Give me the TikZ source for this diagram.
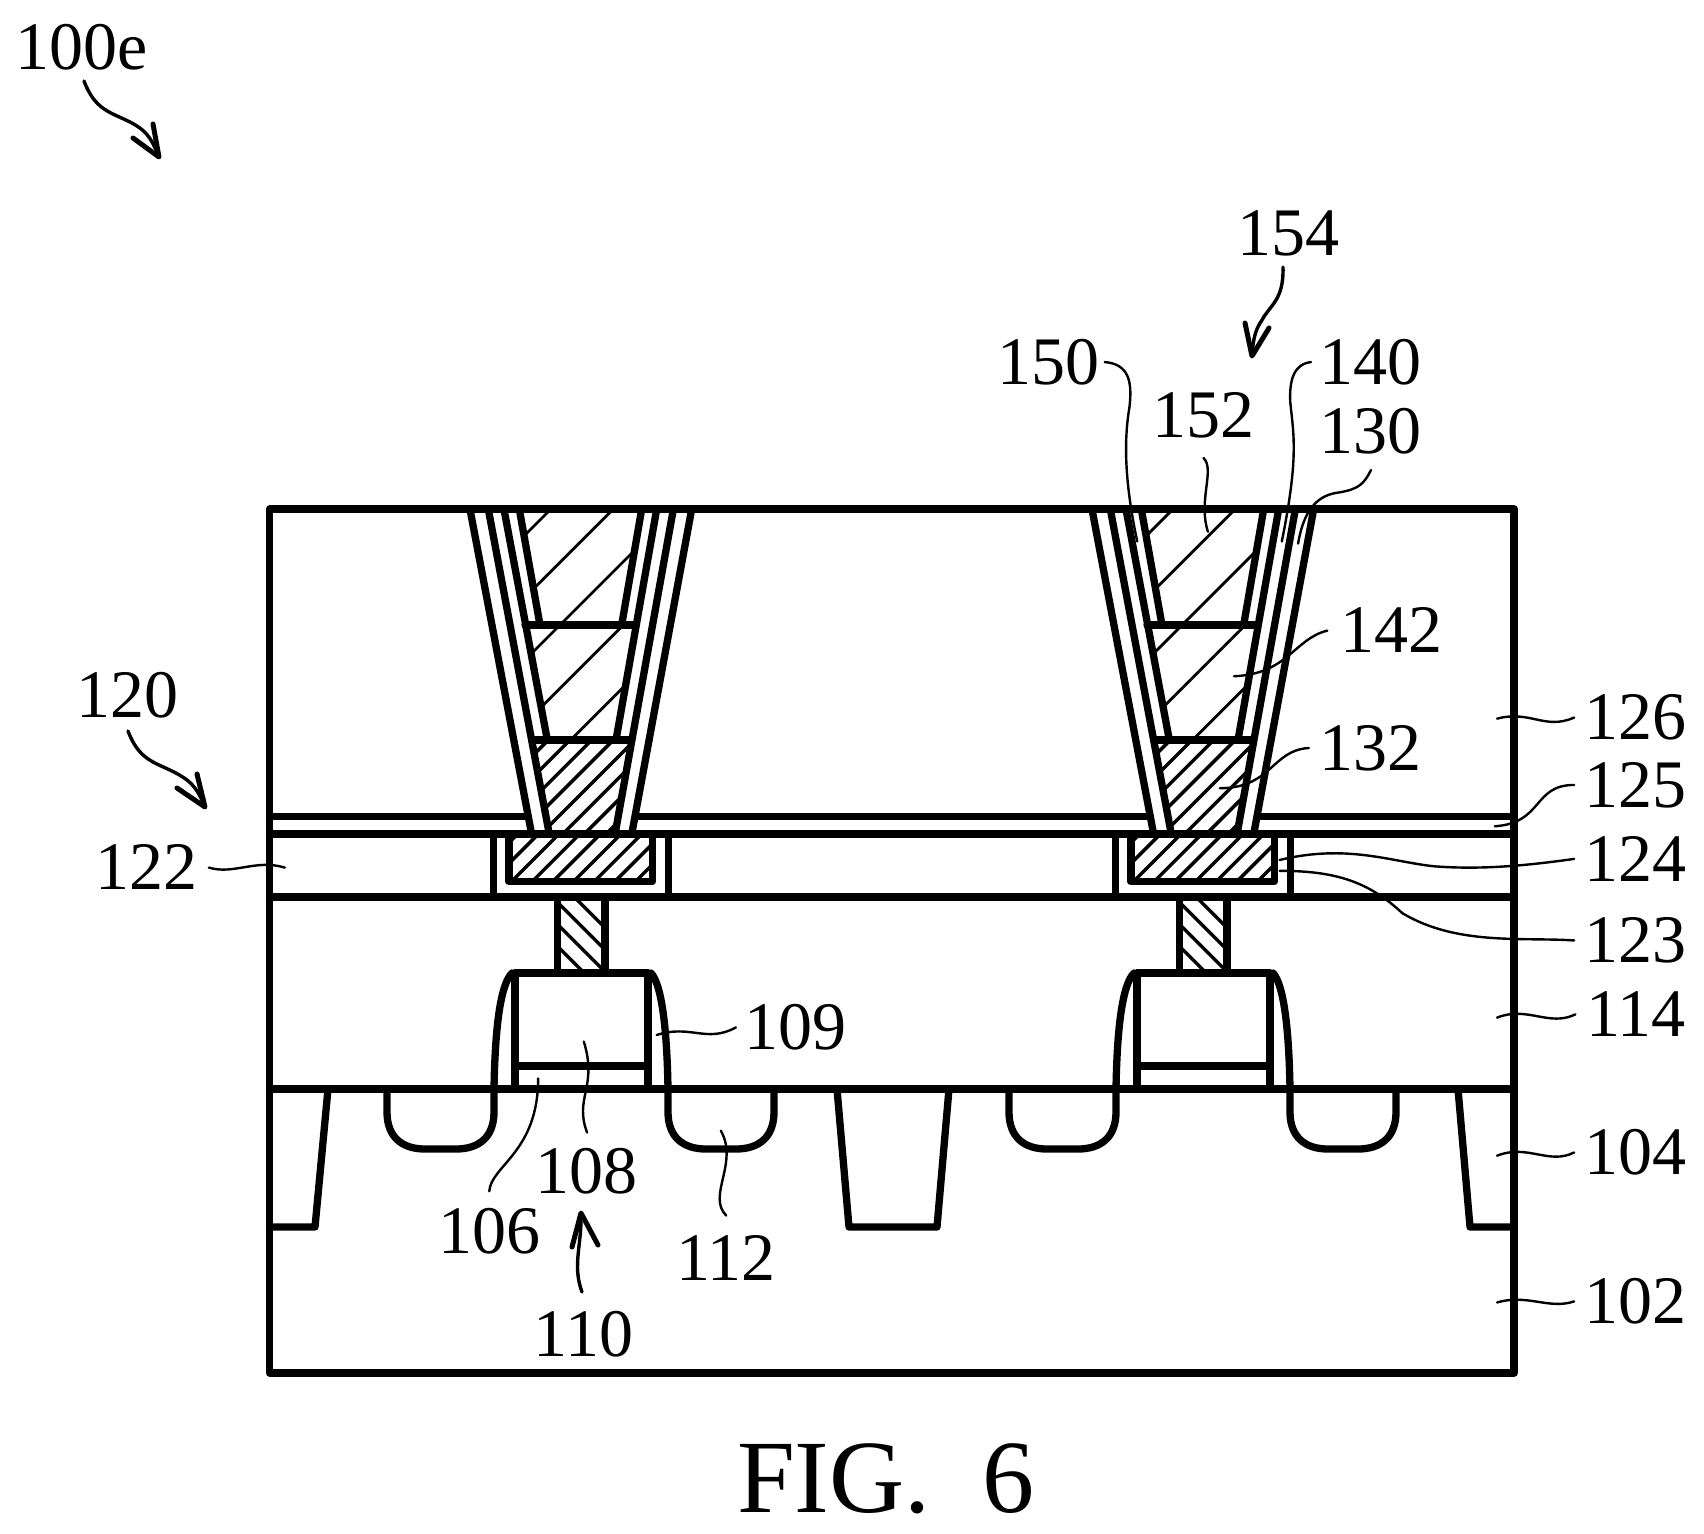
\documentclass[tikz,border=0pt]{standalone}
\usepackage{fontspec}
\setmainfont{Liberation Serif}
\tikzset{
  main/.style={line width=3.65pt,line join=round,line cap=round},
  hatchthin/.style={line width=1.4pt},
  hatchthick/.style={line width=1.7pt},
  lbl/.style={font=\fontsize{34}{34}\selectfont,inner sep=1pt},
  leader/.style={line width=1.2pt,line cap=round},
  calloutline/.style={line width=1.7pt,line cap=round},
  barb/.style={line width=2.5pt,line cap=round,line join=round}
}
\begin{document}
\begin{tikzpicture}[x=0.5pt,y=-0.5pt]
\useasboundingbox (0,0) rectangle (1704,1533);
% outer box and layers
\draw[main] (269.6,509) rectangle (1514,1373);
\draw[main] (269.6,834) -- (1514,834);
\draw[main] (269.6,897) -- (1514,897);
\draw[main] (269.6,1089) -- (1514,1089);
\draw[main] (269.6,816.5) -- (525,816.5) (638,816.5) -- (1147,816.5) (1260,816.5) -- (1514,816.5);
% isolation
\draw[main] (328,1089) -- (315,1227) -- (269.6,1227);
\draw[main] (837,1089) -- (849,1227) -- (937,1227) -- (949,1089);
\draw[main] (1458,1089) -- (1470,1227) -- (1514,1227);
% repeated structure
\foreach \ox in {0,622}{
 \begin{scope}[shift={(\ox,0)}]
  % wells
  \draw[main] (387,1089) -- (387,1112) .. controls (387,1137) and (402,1149) .. (425,1149) -- (456,1149) .. controls (479,1149) and (494,1137) .. (494,1112) -- (494,1089);
  \draw[main] (668,1089) -- (668,1112) .. controls (668,1137) and (683,1149) .. (706,1149) -- (736,1149) .. controls (759,1149) and (774,1137) .. (774,1112) -- (774,1089);
  % gate
  \draw[main] (515,1089) -- (515,973) -- (648,973) -- (648,1089);
  \draw[main] (515,1066) -- (648,1066);
  % spacers
  \draw[main] (494,1089) .. controls (495,1030) and (500,985) .. (512,973);
  \draw[main] (668,1089) .. controls (667,1030) and (662,985) .. (651,973);
 \end{scope}
 \begin{scope}[shift={(440+\ox,490)},scale=1/3]
  % liners
  \draw[main] (90,58) -- (275,1033);
  \draw[main] (145,58) -- (328,1033);
  \draw[main] (192,58) -- (322,750);
  \draw[main] (238,58) -- (300,405);
  \draw[main] (755,58) -- (575,1033);
  \draw[main] (700,58) -- (525,1033);
  \draw[main] (650,58) -- (528,750);
  \draw[main] (605,58) -- (545,405);
  \draw[main] (255,405) -- (585,405);
  \draw[main] (275,750) -- (570,750);
  % hatching 152
  \begin{scope}
   \clip (238,58) -- (605,58) -- (545,405) -- (300,405) -- cycle;
   \foreach \c in {390,577,765}{\draw[hatchthin] (\c,0) -- (\c-1400,1400);}
  \end{scope}
  % hatching 142
  \begin{scope}
   \clip (255,405) -- (585,405) -- (528,750) -- (322,750) -- cycle;
   \foreach \c in {765,955,1142}{\draw[hatchthin] (\c,0) -- (\c-1400,1400);}
  \end{scope}
  % hatching 132
  \begin{scope}
   \clip (275,750) -- (570,750) -- (525,1033) -- (328,1033) -- cycle;
   \foreach \c in {1075,1140,1205,1270,1335,1400,1465,1530}{\draw[hatchthick] (\c,0) -- (\c-1400,1400);}
  \end{scope}
  % barrier and metal
  \draw[main] (160,1033) -- (160,1220) (685,1033) -- (685,1220);
  \draw[main] (207,1033) -- (207,1175) -- (637,1175) -- (637,1033);
  \begin{scope}
   \clip (207,1033) rectangle (637,1175);
   \foreach \c in {1265,1327,1389,1451,1513,1575,1637,1699,1761}{\draw[hatchthick] (\c,0) -- (\c-1400,1400);}
  \end{scope}
  % via
  \draw[main] (352,1220) -- (352,1449) (495,1220) -- (495,1449);
  \begin{scope}
   \clip (352,1220) rectangle (495,1449);
   \foreach \c in {818,884,950,1016,1082}{\draw[hatchthick] (0,\c) -- (1000,\c+1000);}
  \end{scope}
 \end{scope}
}
% callout ends and arrow barbs, in picture pixels
\coordinate (s100) at (84,81);   \coordinate (t100) at (159,157);
\coordinate (a100) at (153,124); \coordinate (b100) at (133,138);
\coordinate (s154) at (1283,267); \coordinate (t154) at (1252,356);
\coordinate (a154) at (1245,323); \coordinate (b154) at (1269,328);
\coordinate (s120) at (128,731);  \coordinate (t120) at (205,807);
\coordinate (a120) at (197,774);  \coordinate (b120) at (177,788);
\coordinate (s110) at (582,1292); \coordinate (t110) at (581,1213);
\coordinate (a110) at (572,1247); \coordinate (b110) at (598,1245);
\draw[calloutline] (s100) .. controls (95,110) and (110,112) .. (130,122) .. controls (145,130) and (150,135) .. (t100);
\draw[barb] (a100) -- (t100) -- (b100);
\draw[calloutline] (s154) .. controls (1284,300) and (1270,305) .. (1262,320) .. controls (1255,330) and (1253,340) .. (t154);
\draw[barb] (a154) -- (t154) -- (b154);
\draw[calloutline] (s120) .. controls (139,760) and (154,762) .. (174,772) .. controls (189,780) and (196,785) .. (t120);
\draw[barb] (a120) -- (t120) -- (b120);
\draw[calloutline] (s110) .. controls (572,1265) and (582,1245) .. (t110);
\draw[barb] (a110) -- (t110) -- (b110);
% labels
\begin{scope}[scale=1.087]
\node[lbl] (l100e) at (75,43) {100e};
\node[lbl] (l154) at (1185,215) {154};
\node[lbl] (l150) at (965,333) {150};
\node[lbl] (l152) at (1107,382) {152};
\node[lbl] (l140) at (1261,333) {140};
\node[lbl] (l130) at (1261,397) {130};
\node[lbl] (l142) at (1280,580) {142};
\node[lbl] (l132) at (1261,688) {132};
\node[lbl] (l126) at (1505,660) {126};
\node[lbl] (l125) at (1505,722) {125};
\node[lbl] (l124) at (1505,790) {124};
\node[lbl] (l123) at (1505,865) {123};
\node[lbl] (l114) at (1505,933) {114};
\node[lbl] (l104) at (1505,1060) {104};
\node[lbl] (l102) at (1505,1197) {102};
\node[lbl] (l120) at (117,640) {120};
\node[lbl] (l122) at (135,798) {122};
\node[lbl] (l109) at (732,945) {109};
\node[lbl] (l108) at (540,1077) {108};
\node[lbl] (l106) at (450,1133) {106};
\node[lbl] (l112) at (668,1157) {112};
\node[lbl] (l110) at (537,1227) {110};
\node[font=\fontsize{52}{52}\selectfont,inner sep=0pt] (fig) at (815,1360) {FIG.\ \ 6};
% free ends
\coordinate (e150) at (1046,498);
\coordinate (e152) at (1111,489);
\coordinate (e140) at (1179,498);
\coordinate (e130) at (1194,500);
\coordinate (e142) at (1135,622);
\coordinate (e132) at (1122,725);
\coordinate (e126) at (1377,661);
\coordinate (e125) at (1375,760);
\coordinate (e124) at (1177,791);
\coordinate (e123) at (1177,801);
\coordinate (e114) at (1377,936);
\coordinate (e104) at (1377,1063);
\coordinate (e102) at (1377,1198);
\coordinate (e122) at (262,798);
\coordinate (e109) at (604,952);
\coordinate (e108) at (537,958);
\coordinate (e106) at (495,992);
\coordinate (e112) at (663,1040);
% leaders
\draw[leader] ([xshift=1pt]l150.east) .. controls (1038,335) and (1042,350) .. (1039,375) .. controls (1033,410) and (1036,450) .. (e150);
\draw[leader] ([yshift=-8pt]l152.south) .. controls (1118,432) and (1102,460) .. (e152);
\draw[leader] ([xshift=-3pt]l140.west) .. controls (1190,335) and (1186,350) .. (1187,370) .. controls (1190,400) and (1195,420) .. (e140);
\draw[leader] ([yshift=-6pt]l130.south) .. controls (1255,445) and (1250,450) .. (1232,453) .. controls (1215,455) and (1200,465) .. (e130);
\draw[leader] ([xshift=-5pt]l142.west) .. controls (1190,588) and (1185,620) .. (e142);
\draw[leader] ([xshift=-4pt]l132.west) .. controls (1170,690) and (1170,725) .. (e132);
\draw[leader] ([xshift=-4pt]l126.west) .. controls (1421,672) and (1408,653) .. (e126);
\draw[leader] ([xshift=-4pt]l125.west) .. controls (1410,722) and (1420,757) .. (e125);
\draw[leader] ([xshift=-4pt]l124.west) .. controls (1400,797) and (1360,800) .. (1320,797) .. controls (1280,793) and (1240,776) .. (e124);
\draw[leader] ([xshift=-4pt]l123.west) .. controls (1400,862) and (1340,870) .. (1290,840) .. controls (1260,812) and (1230,801) .. (e123);
\draw[leader] ([xshift=-4pt]l114.west) .. controls (1425,945) and (1405,925) .. (e114);
\draw[leader] ([xshift=-4pt]l104.west) .. controls (1425,1072) and (1405,1052) .. (e104);
\draw[leader] ([xshift=-4pt]l102.west) .. controls (1425,1205) and (1405,1190) .. (e102);
\draw[leader] ([xshift=4pt]l122.east) .. controls (215,805) and (235,790) .. (e122);
\draw[leader] ([xshift=-3pt]l109.west) .. controls (650,960) and (635,942) .. (e109);
\draw[leader] ([yshift=6pt]l108.north) .. controls (528,1010) and (550,1000) .. (e108);
\draw[leader] ([yshift=7pt]l106.north) .. controls (452,1072) and (495,1060) .. (e106);
\draw[leader] ([yshift=8pt]l112.north) .. controls (650,1100) and (680,1070) .. (e112);
\end{scope}
\end{tikzpicture}
\end{document}
